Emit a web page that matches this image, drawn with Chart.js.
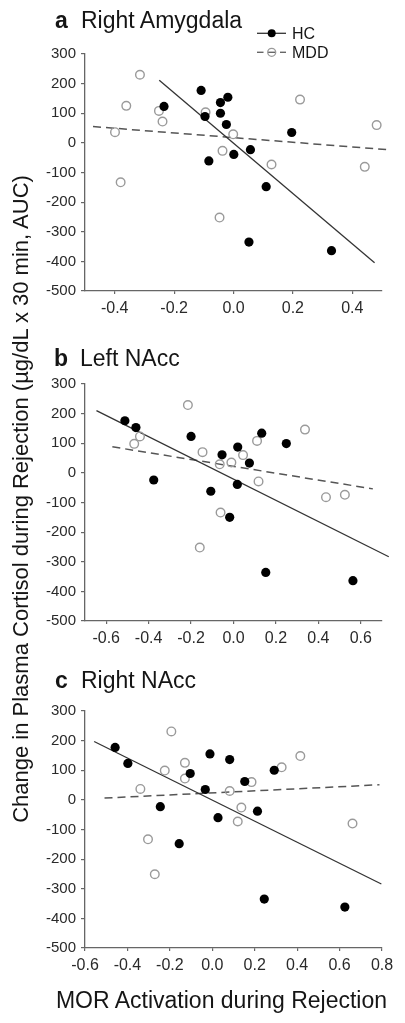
<!DOCTYPE html>
<html>
<head>
<meta charset="utf-8">
<script src="https://cdn.jsdelivr.net/npm/chart.js@4.4.0/dist/chart.umd.min.js"></script>
<style>
html,body{margin:0;padding:0;background:#fff;width:405px;height:1023px;overflow:hidden;font-family:'Liberation Sans',Arial,sans-serif;}
canvas{position:absolute;left:0;}
.pt{position:absolute;font-size:23px;line-height:23px;color:#151515;white-space:nowrap;}
.pt b{position:absolute;left:0;top:0;}
.pt span{position:absolute;left:26px;top:0;}
#ytitle{position:absolute;width:700px;left:-329px;top:487.5px;height:22px;font-size:22px;line-height:22px;text-align:center;color:#151515;white-space:nowrap;transform:rotate(-90deg);transform-origin:50% 50%;}
#xtitle{position:absolute;width:400px;left:21.5px;top:988.5px;font-size:23px;line-height:23px;text-align:center;color:#151515;white-space:nowrap;}
</style>
</head>
<body>
<canvas id="cA" width="405" height="330" style="top:0px"></canvas>
<canvas id="cB" width="405" height="330" style="top:330px"></canvas>
<canvas id="cC" width="405" height="330" style="top:657px"></canvas>
<div class="pt" style="left:55px;top:9px"><b>a</b><span>Right Amygdala</span></div>
<div class="pt" style="left:54px;top:346.5px"><b>b</b><span>Left NAcc</span></div>
<div class="pt" style="left:55px;top:669px"><b>c</b><span>Right NAcc</span></div>
<div id="ytitle">Change in Plasma Cortisol during Rejection (µg/dL x 30 min, AUC)</div>
<div id="xtitle">MOR Activation during Rejection</div>
<script>
// ---- shared tick labels ----
const yTicks = [-500, -400, -300, -200, -100, 0, 100, 200, 300];
const xTicksA = [-0.4, -0.2, 0.0, 0.2, 0.4];
const xTicksB = [-0.6, -0.4, -0.2, 0.0, 0.2, 0.4, 0.6];
const xTicksC = [-0.6, -0.4, -0.2, 0.0, 0.2, 0.4, 0.6, 0.8];
const seriesNames = ['HC', 'MDD'];

// ---- panel a: Right Amygdala ----
const hcA_x = [-0.234, -0.109, -0.096, -0.044, -0.019, -0.044, -0.024, -0.083, 0.001, 0.057, 0.196, 0.110, 0.052, 0.330];
const hcA_y = [123, 177, 89, 136, 154, 100, 62, -61, -39, -23, 35, -148, -335, -364];
const mddA_x = [-0.315, -0.361, -0.399, -0.380, -0.251, -0.239, -0.094, -0.001, -0.037, -0.047, 0.128, 0.224, 0.482, 0.442];
const mddA_y = [230, 125, 36, -133, 108, 72, 103, 29, -27, -252, -73, 146, 60, -81];
const hcFitA_x = [-0.250, 0.475];
const hcFitA_y = [211, -405];
const mddFitA_x = [-0.473, 0.530];
const mddFitA_y = [55, -24];

// ---- panel b: Left NAcc ----
const hcB_x = [-0.512, -0.460, -0.376, -0.200, -0.054, -0.107, 0.020, 0.075, 0.018, -0.018, 0.133, 0.249, 0.152, 0.563];
const hcB_y = [176, 153, -24, 123, 61, -62, 87, 33, -39, -150, 134, 99, -336, -364];
const mddB_x = [-0.215, -0.468, -0.441, -0.146, -0.065, -0.010, 0.045, 0.111, 0.118, -0.061, -0.159, 0.337, 0.436, 0.525];
const mddB_y = [229, 98, 123, 70, 29, 35, 60, 108, -29, -134, -252, 146, -82, -74];
const hcFitB_x = [-0.646, 0.732];
const hcFitB_y = [210, -283];
const mddFitB_x = [-0.571, 0.657];
const mddFitB_y = [88, -54];

// ---- panel c: Right NAcc ----
const hcC_x = [-0.458, -0.398, -0.245, -0.104, -0.156, -0.033, -0.011, 0.027, 0.082, 0.153, 0.213, 0.292, 0.245, 0.625];
const hcC_y = [177, 123, -23, 89, -148, 35, 155, -60, 136, 62, -38, 100, -335, -362];
const mddC_x = [-0.193, -0.339, -0.224, -0.129, -0.129, -0.303, -0.271, 0.082, 0.137, 0.120, 0.185, 0.327, 0.415, 0.661];
const mddC_y = [231, 37, 99, 125, 72, -133, -251, 30, -26, -73, 60, 110, 148, -80];
const hcFitC_x = [-0.557, 0.797];
const hcFitC_y = [197, -284];
const mddFitC_x = [-0.508, 0.788];
const mddFitC_y = [6, 51];

const zip = (xs, ys) => xs.map((x, i) => ({x: x, y: ys[i]}));

const legendPlugin = {
  id: 'cornerLegend',
  afterDraw(chart) {
    if (!chart.options.plugins.cornerLegend || !chart.options.plugins.cornerLegend.show) return;
    const ctx = chart.ctx;
    ctx.save();
    // HC row
    let y = 33.3;
    ctx.strokeStyle = '#333'; ctx.lineWidth = 1.3; ctx.setLineDash([]);
    ctx.beginPath(); ctx.moveTo(257, y); ctx.lineTo(286, y); ctx.stroke();
    ctx.fillStyle = '#000';
    ctx.beginPath(); ctx.arc(271.7, y, 4, 0, Math.PI * 2); ctx.fill();
    ctx.font = '16px "Liberation Sans", Arial, sans-serif';
    ctx.fillStyle = '#151515'; ctx.textBaseline = 'alphabetic';
    ctx.fillText(seriesNames[0], 292, 38.8);
    // MDD row
    y = 52.3;
    ctx.strokeStyle = '#666'; ctx.lineWidth = 1.4;
    [[257, 263.5], [268, 275.5], [280, 286]].forEach(s => {
      ctx.beginPath(); ctx.moveTo(s[0], y); ctx.lineTo(s[1], y); ctx.stroke();
    });
    ctx.strokeStyle = '#9a9a9a'; ctx.lineWidth = 1.3;
    ctx.beginPath(); ctx.arc(271.7, y, 4, 0, Math.PI * 2); ctx.stroke();
    ctx.fillStyle = '#151515';
    ctx.fillText(seriesNames[1], 292, 57.8);
    ctx.restore();
  }
};

function makePanel(id, hcX, hcY, mddX, mddY, hfx, hfy, mfx, mfy, xMin, xMax, xTicks, showLegend) {
  const axisColor = '#666';
  new Chart(document.getElementById(id), {
    type: 'scatter',
    data: {
      datasets: [
        {label: seriesNames[0], data: zip(hcX, hcY), pointRadius: 4.6, pointBackgroundColor: '#000', pointBorderColor: '#000', pointBorderWidth: 0, showLine: false, order: 0},
        {label: seriesNames[1], data: zip(mddX, mddY), pointRadius: 4.3, pointBackgroundColor: 'rgba(255,255,255,0)', pointBorderColor: '#9a9a9a', pointBorderWidth: 1.4, showLine: false, order: 1},
        {label: seriesNames[0] + ' fit', data: zip(hfx, hfy), showLine: true, pointRadius: 0, borderColor: '#333', borderWidth: 1.3, clip: false, order: 2},
        {label: seriesNames[1] + ' fit', data: zip(mfx, mfy), showLine: true, pointRadius: 0, borderColor: '#555', borderWidth: 1.5, borderDash: [8, 5], clip: false, order: 3}
      ]
    },
    options: {
      responsive: false,
      animation: false,
      devicePixelRatio: 1,
      layout: {padding: {top: 54, right: 23, left: 0, bottom: 0}},
      plugins: {legend: {display: false}, tooltip: {enabled: false}, cornerLegend: {show: showLegend}},
      scales: {
        x: {
          type: 'linear', min: xMin, max: xMax,
          afterBuildTicks: s => { s.ticks = xTicks.map(v => ({value: v})); },
          afterFit: s => { s.height = 39; },
          grid: {display: true, drawOnChartArea: false, drawTicks: true, tickLength: 3, color: axisColor, lineWidth: 1.2},
          border: {display: true, color: axisColor, width: 1.3},
          ticks: {autoSkip: false, maxRotation: 0, padding: 5, color: '#2a2a2a',
                  font: {family: "'Liberation Sans', Arial, sans-serif", size: 16},
                  callback: v => Number(v).toFixed(1)}
        },
        y: {
          type: 'linear', min: -500, max: 300,
          afterBuildTicks: s => { s.ticks = yTicks.map(v => ({value: v})); },
          afterFit: s => { s.width = 85; },
          grid: {display: true, drawOnChartArea: false, drawTicks: true, tickLength: 4, color: axisColor, lineWidth: 1.2},
          border: {display: true, color: axisColor, width: 1.3},
          ticks: {autoSkip: false, padding: 5, color: '#2a2a2a',
                  font: {family: "'Liberation Sans', Arial, sans-serif", size: 15},
                  callback: v => String(v)}
        }
      }
    },
    plugins: [legendPlugin]
  });
}

makePanel('cA', hcA_x, hcA_y, mddA_x, mddA_y, hcFitA_x, hcFitA_y, mddFitA_x, mddFitA_y, -0.5, 0.5, xTicksA, true);
makePanel('cB', hcB_x, hcB_y, mddB_x, mddB_y, hcFitB_x, hcFitB_y, mddFitB_x, mddFitB_y, -0.7, 0.7, xTicksB, false);
makePanel('cC', hcC_x, hcC_y, mddC_x, mddC_y, hcFitC_x, hcFitC_y, mddFitC_x, mddFitC_y, -0.6, 0.8, xTicksC, false);
</script>
</body>
</html>
